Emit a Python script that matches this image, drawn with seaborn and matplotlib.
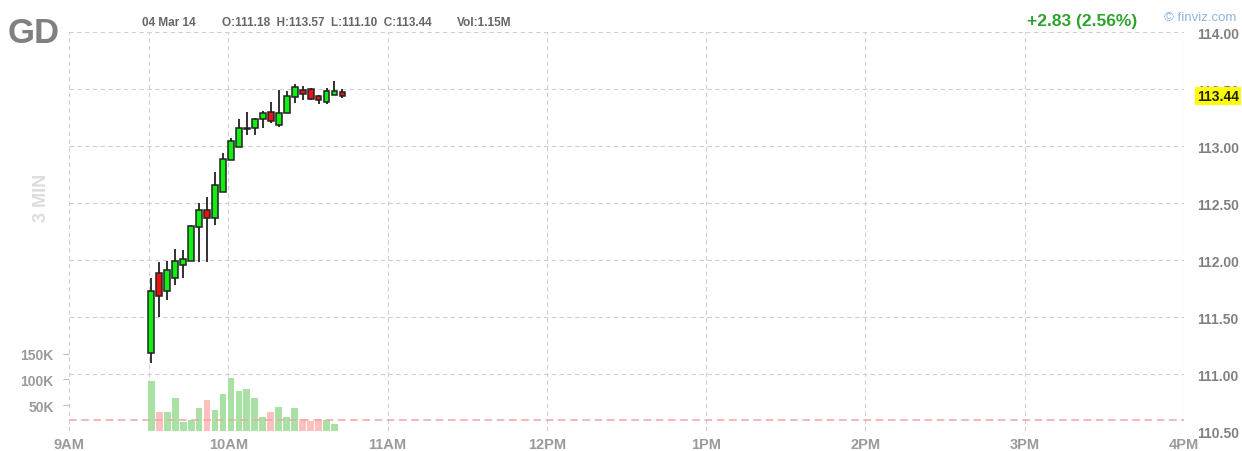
import numpy as np
import pandas as pd
import seaborn as sns
import matplotlib
matplotlib.use('Agg')
import matplotlib.pyplot as plt
import matplotlib.transforms as mtransforms

# 3-minute bars, GD, 04 Mar 14
bar_times = ["09:30", "09:33", "09:36", "09:39", "09:42", "09:45", "09:48", "09:51",
             "09:54", "09:57", "10:00", "10:03", "10:06", "10:09", "10:12", "10:15",
             "10:18", "10:21", "10:24", "10:27", "10:30", "10:33", "10:36", "10:39",
             "10:42"]
opens = [111.18, 111.89, 111.73, 111.84, 111.96, 111.99, 112.29, 112.44,
         112.37, 112.60, 112.88, 112.99, 113.15, 113.16, 113.24, 113.30,
         113.18, 113.29, 113.43, 113.49, 113.50, 113.44, 113.39, 113.45,
         113.47]
highs = [111.84, 111.98, 111.99, 112.10, 112.09, 112.31, 112.50, 112.55,
         112.77, 112.94, 113.07, 113.24, 113.30, 113.25, 113.31, 113.39,
         113.49, 113.48, 113.54, 113.53, 113.51, 113.45, 113.51, 113.57,
         113.50]
lows = [111.10, 111.50, 111.65, 111.78, 111.84, 111.99, 111.98, 111.98,
        112.31, 112.60, 112.88, 112.99, 113.10, 113.10, 113.16, 113.20,
        113.17, 113.29, 113.38, 113.40, 113.40, 113.37, 113.37, 113.45,
        113.42]
closes = [111.73, 111.68, 111.91, 111.99, 112.01, 112.30, 112.44, 112.37,
          112.66, 112.89, 113.04, 113.16, 113.16, 113.24, 113.29, 113.22,
          113.29, 113.44, 113.52, 113.46, 113.41, 113.40, 113.48, 113.48,
          113.44]
# volume shown for the first 24 bars (last bar still open)
volumes = [96500, 37000, 37000, 63000, 17000, 22000, 45000, 60000,
           40000, 71000, 102000, 78000, 81000, 63000, 27000, 37000,
           47000, 27000, 45000, 23000, 19000, 23000, 22000, 14500]
avg_volume = 22000

price_ticks = [110.5, 111.0, 111.5, 112.0, 112.5, 113.0, 113.5, 114.0]
vol_ticks = [50000, 100000, 150000]
vol_labels = ['50K', '100K', '150K']
time_ticks = ["09:00", "09:30", "10:00", "11:00", "12:00", "13:00", "14:00", "15:00", "16:00"]
time_labels = ['9AM', '', '10AM', '11AM', '12PM', '1PM', '2PM', '3PM', '4PM']

sns.set_style('white')
plt.rcParams['font.family'] = ['Liberation Sans', 'DejaVu Sans']


def to_minutes(strs):
    t = pd.to_datetime(pd.Series(strs), format='%H:%M')
    return (t.dt.hour * 60 + t.dt.minute - 9 * 60).to_numpy().astype(float)


x_bars = to_minutes(bar_times) + 1.0  # centre inside the 3-min slot
x_ticks = to_minutes(time_ticks)

o = np.array(opens)
h = np.array(highs)
l = np.array(lows)
c = np.array(closes)
direction = np.where(c >= o, 'up', 'down')

vol_df = pd.DataFrame({'t': x_bars[:len(volumes)], 'vol': volumes,
                       'dir': direction[:len(volumes)]})

fig = plt.figure(figsize=(12.42, 4.52), dpi=100)
ax_vol = fig.add_axes([69 / 1242, 20 / 452, 1115 / 1242, 399 / 452])
ax_px = ax_vol.twinx()

# volume
sns.barplot(data=vol_df, x='t', y='vol', hue='dir',
            palette={'up': '#a9e0a3', 'down': '#ffbfbf'},
            native_scale=True, dodge=False, width=0.85, saturation=1,
            errorbar=None, linewidth=0, legend=False, ax=ax_vol)
ax_vol.axhline(avg_volume, color='#f0a3a3', ls=(0, (5, 3)), lw=1.1, zorder=3)
ax_vol.set_xlim(0, 420)
ax_vol.set_ylim(0, 773000)
ax_vol.set_xlabel('')
ax_vol.set_ylabel('')
ax_vol.set_xticks(x_ticks)
ax_vol.set_xticklabels(time_labels)
ax_vol.set_yticks(vol_ticks)
ax_vol.set_yticklabels(vol_labels)
ax_vol.set_axisbelow(True)
ax_vol.grid(axis='x', color='#cfcfcf', ls=(0, (4, 3)), lw=0.8)
ax_vol.grid(axis='y', visible=False)
ax_vol.tick_params(axis='x', length=0, pad=4.5, labelsize=10.5, labelcolor='#9a9a9a')
ax_vol.tick_params(axis='y', length=4, width=0.8, color='#c0c0c0', pad=7,
                   labelsize=10, labelcolor='#9a9a9a')

# candles
colors = np.where(direction == 'up', '#11ee11', '#ee1111')
ax_px.vlines(x_bars, l, h, color='#222222', lw=1.3, zorder=2)
body_low = np.minimum(o, c)
body_h = np.maximum(np.abs(c - o), 0.012)
ax_px.bar(x_bars, body_h, bottom=body_low, width=2.2, color=colors,
          edgecolor='#222222', linewidth=1.1, zorder=3)
ax_px.set_ylim(110.5, 114.0)
ax_px.set_yticks(price_ticks)
ax_px.set_yticklabels([f'{v:.2f}' for v in price_ticks])
ax_px.grid(axis='y', color='#cfcfcf', ls=(0, (4, 3)), lw=0.8)
ax_px.tick_params(axis='y', length=0, pad=9.5, labelsize=10, labelcolor='#808080')

for ax in (ax_vol, ax_px):
    for s in ax.spines.values():
        s.set_visible(False)
    for tl in ax.get_xticklabels() + ax.get_yticklabels():
        tl.set_fontweight('bold')

# last price marker
trans = mtransforms.blended_transform_factory(ax_px.transAxes, ax_px.transData)
ax_px.text(1 + 13 / 1115, c[-1], f'{c[-1]:.2f}', transform=trans, ha='left', va='center',
           fontsize=10, fontweight='bold', color='#222222', clip_on=False, zorder=10,
           bbox=dict(boxstyle='square,pad=0.15', fc='#ffff00', ec='none'))

# header
def fy(y):
    return 1 - y / 452

fig.text(8 / 1242, fy(43), 'GD', fontsize=25, fontweight='bold', color='#808080', va='baseline')
fig.text(142 / 1242, fy(25.5), '04 Mar 14', fontsize=8.5, fontweight='bold', color='#666666', va='baseline')
fig.text(222 / 1242, fy(25.5), 'O:111.18  H:113.57  L:111.10  C:113.44', fontsize=8.5,
         fontweight='bold', color='#666666', va='baseline')
fig.text(457 / 1242, fy(25.5), 'Vol:1.15M', fontsize=8.5, fontweight='bold', color='#666666', va='baseline')
fig.text(1027 / 1242, fy(26), '+2.83 (2.56%)', fontsize=12.5, fontweight='bold', color='#2ea32e', va='baseline')
fig.text(1164 / 1242, fy(21), '© finviz.com', fontsize=9.5, color='#8db5e2', va='baseline')
fig.text(41 / 1242, fy(198), '3 MIN', rotation=90, fontsize=13, fontweight='bold',
         color='#dcdcdc', ha='center', va='center')

fig.savefig('out.png', dpi=100, facecolor='white')
